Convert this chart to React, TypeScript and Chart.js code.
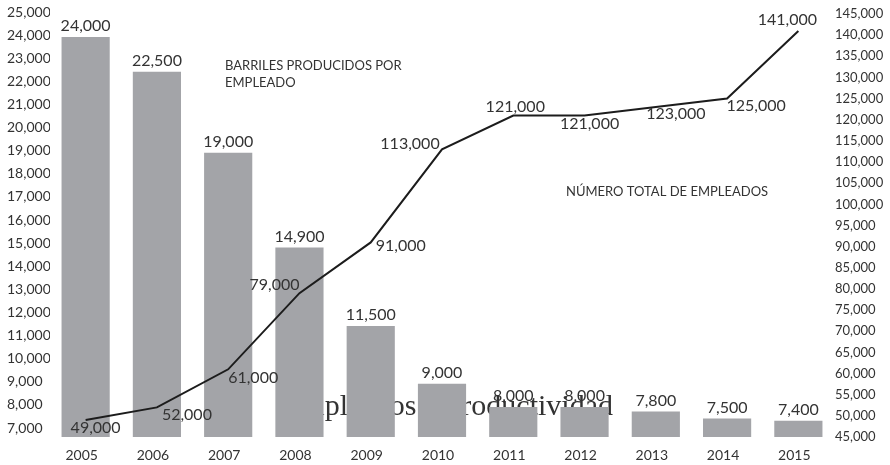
import React, { useEffect, useRef } from "react";
import { Chart, registerables } from "chart.js";

Chart.register(...registerables);

const years = ["2005", "2006", "2007", "2008", "2009", "2010", "2011", "2012", "2013", "2014", "2015"];
const barrelsPerEmployee = [24000, 22500, 19000, 14900, 11500, 9000, 8000, 8000, 7800, 7500, 7400];
const totalEmployees = [49000, 52000, 61000, 79000, 91000, 113000, 121000, 121000, 123000, 125000, 141000];
const leftTickValues = [7000, 8000, 9000, 10000, 11000, 12000, 13000, 14000, 15000, 16000, 17000, 18000, 19000, 20000, 21000, 22000, 23000, 24000, 25000];
const chartTitle = "Empleados y productividad";
const barsCaption = ["BARRILES PRODUCIDOS POR", "EMPLEADO"];
const lineCaption = "NÚMERO TOTAL DE EMPLEADOS";

// label placement (style only): offset of each line value label from its point
const lineLabelOffsets: [number, number][] = [
  [10, 8], [30, 7], [25, 9], [-25, -8], [30, 3], [-32, -6], [2, -9], [5, 8], [20, 7], [29, 7], [-11, -11],
];

const TEXT = "#333333";
const SANS = "Lato, 'Open Sans', sans-serif";
const fmt = (v: number) => v.toLocaleString("en-US");

const labelsPlugin = {
  id: "customText",
  beforeDatasetsDraw(chart: any) {
    const { ctx, chartArea } = chart;
    ctx.save();
    ctx.font = "30px 'Liberation Serif', serif";
    ctx.fillStyle = TEXT;
    ctx.textAlign = "center";
    ctx.textBaseline = "alphabetic";
    ctx.fillText(chartTitle, (chartArea.left + chartArea.right) / 2 + 6, 415);
    ctx.font = `13px ${SANS}`;
    ctx.textAlign = "left";
    ctx.textBaseline = "middle";
    ctx.fillText(barsCaption[0], 225, 66);
    ctx.fillText(barsCaption[1], 225, 83);
    ctx.fillText(lineCaption, 566, 192);
    ctx.restore();
  },
  afterDatasetsDraw(chart: any) {
    const { ctx } = chart;
    ctx.save();
    ctx.font = `16px ${SANS}`;
    ctx.fillStyle = TEXT;
    // bar labels
    const barMeta = chart.getDatasetMeta(1);
    ctx.textAlign = "center";
    ctx.textBaseline = "bottom";
    barMeta.data.forEach((el: any, i: number) => {
      ctx.fillText(fmt(barrelsPerEmployee[i]), el.x, el.y - 3);
    });
    // line labels
    const lineMeta = chart.getDatasetMeta(0);
    ctx.textBaseline = "middle";
    lineMeta.data.forEach((el: any, i: number) => {
      const [dx, dy] = lineLabelOffsets[i];
      ctx.fillText(fmt(totalEmployees[i]), el.x + dx, el.y + dy);
    });
    ctx.restore();
  },
};

export default function App() {
  const ref = useRef<HTMLCanvasElement>(null);
  useEffect(() => {
    if (!ref.current) return;
    const chart = new Chart(ref.current, {
      type: "bar",
      data: {
        labels: years,
        datasets: [
          {
            type: "line",
            label: "Número total de empleados",
            data: totalEmployees,
            yAxisID: "yRight",
            borderColor: "#1c1c1c",
            borderWidth: 2,
            pointRadius: 0,
            tension: 0,
            fill: false,
            order: 0,
          } as any,
          {
            type: "bar",
            label: "Barriles producidos por empleado",
            data: barrelsPerEmployee,
            yAxisID: "yLeft",
            backgroundColor: "#a3a4a8",
            borderWidth: 0,
            barPercentage: 0.676,
            categoryPercentage: 1,
            order: 1,
          },
        ],
      },
      options: {
        responsive: false,
        animation: false,
        layout: { padding: { left: 7, right: 6, top: 14, bottom: 0 } },
        plugins: { legend: { display: false }, tooltip: { enabled: false }, title: { display: false } },
        scales: {
          x: {
            grid: { display: false, drawTicks: false },
            border: { display: false },
            ticks: { color: TEXT, font: { family: SANS, size: 14 }, padding: 10, labelOffset: -4, maxRotation: 0 },
            afterFit: (s: any) => { s.height = 28; },
          },
          yLeft: {
            position: "left",
            min: 6700,
            max: 25000,
            grid: { display: false, drawTicks: false },
            border: { display: false },
            afterBuildTicks: (s: any) => { s.ticks = leftTickValues.map((v) => ({ value: v })); },
            ticks: { color: TEXT, font: { family: SANS, size: 14 }, crossAlign: "far", labelOffset: -2, callback: (v: any) => fmt(Number(v)) },
            afterFit: (s: any) => { s.width = 43; },
          },
          yRight: {
            position: "right",
            min: 45000,
            max: 145000,
            grid: { display: false, drawTicks: false },
            border: { display: false },
            ticks: { stepSize: 5000, color: TEXT, font: { family: SANS, size: 13 }, padding: 1, callback: (v: any) => fmt(Number(v)) },
            afterFit: (s: any) => { s.width = 50; },
          },
        },
      },
      plugins: [labelsPlugin],
    });
    return () => chart.destroy();
  }, []);
  return (
    <div style={{ position: "absolute", left: 0, top: 0, width: 890, height: 465, background: "#fff" }}>
      <canvas ref={ref} width={890} height={465} style={{ display: "block" }} />
    </div>
  );
}
